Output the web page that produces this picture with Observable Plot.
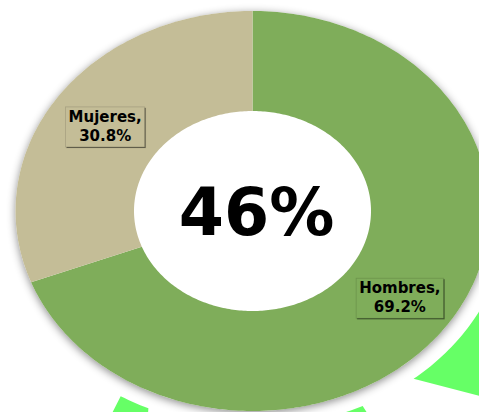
<!DOCTYPE html>
<html>
<head>
<meta charset="utf-8">
<script src="https://cdn.jsdelivr.net/npm/d3@7"></script>
<script src="https://cdn.jsdelivr.net/npm/@observablehq/plot@0.6"></script>
<style>
html, body { margin: 0; padding: 0; background: #fff; overflow: hidden; }
#chart svg { display: block; overflow: hidden; }
</style>
</head>
<body>
<div id="chart"></div>
<script>
// ---- data ----
const categories = ["Mujeres", "Hombres"];
const values = [30.8, 69.2];
const valueLabels = ["30.8%", "69.2%"];
const colors = ["#C4BD97", "#7FAD5A"];
const centerLabel = "46%";
// decorative bright-green band behind the donut (degrees clockwise from top)
const decorOuterStart = [100, 154, 200];
const decorOuterEnd = [134, 175, 209.5];
const decorInnerStart = [100, 154.5, 204];
const decorInnerEnd = [141, 175, 211];

// ---- geometry helpers (unit space, y up) ----
const R_IN = 0.5, R_OUT = 1;
const DECOR_IN = 1.08, DECOR_OUT = 1.33;
function arc(a0, a1, r, key) {
  const n = Math.max(2, Math.ceil(Math.abs(a1 - a0)));
  return d3.range(n + 1).map(k => {
    const a = (a0 + (a1 - a0) * k / n) * Math.PI / 180;
    return {key, x: r * Math.sin(a), y: r * Math.cos(a)};
  });
}
function band(a0o, a1o, a0i, a1i, r0, r1, key) {
  return [...arc(a0o, a1o, r1, key), ...arc(a0i, a1i, r0, key).reverse()];
}

// Hombres first, clockwise from 12 o'clock; Mujeres closes the circle
const order = [1, 0];
const total = d3.sum(values);
let acc = 0;
const slices = order.map(i => {
  const a0 = acc / total * 360; acc += values[i];
  const a1 = acc / total * 360;
  return {cat: categories[i], label: categories[i] + ",\n" + valueLabels[i], color: colors[i], a0, a1};
});
const slicePts = slices.flatMap(s => band(s.a0, s.a1, s.a0, s.a1, R_IN, R_OUT, s.cat).map(p => ({...p, cat: s.cat})));
const discPts = arc(0, 360, R_OUT, "disc");
const decorPts = decorOuterStart.flatMap((a, i) =>
  band(a, decorOuterEnd[i], decorInnerStart[i], decorInnerEnd[i], DECOR_IN, DECOR_OUT, "d" + i));
const labelData = slices.map(s => {
  const m = (s.a0 + s.a1) / 2 * Math.PI / 180, r = 0.755;
  return {cat: s.cat, label: s.label, x: r * Math.sin(m), y: r * Math.cos(m)};
});

const plot = Plot.plot({
  width: 479,
  height: 412,
  margin: 0,
  x: {domain: [-1, 1], range: [15, 489], axis: null},
  y: {domain: [-1, 1], range: [410.5, 10.5], axis: null},
  color: {domain: categories, range: colors},
  style: {background: "white"},
  marks: [
    Plot.line(decorPts, {x: "x", y: "y", z: "key", fill: "#66FF66", stroke: "none"}),
    Plot.line(discPts, {x: "x", y: "y", fill: "white", stroke: "none"}),
    Plot.line(slicePts, {x: "x", y: "y", z: "cat", fill: "cat", stroke: "none"}),
    Plot.text(labelData, {x: "x", y: "y", text: "label", fontFamily: "DejaVu Sans", fontWeight: "bold", fontSize: 15, lineHeight: 1.27, fill: "#000", textAnchor: "middle"}),
    Plot.text([centerLabel], {x: () => 0, y: () => 0, text: d => d, fontFamily: "DejaVu Sans", fontWeight: "bold", fontSize: 65, fill: "#000", textAnchor: "middle", dx: 4, dy: 3.5})
  ]
});
document.getElementById("chart").append(plot);

// post-styling: shadow under the donut, label boxes
const groups = plot.querySelectorAll(":scope > g");
if (groups[1]) groups[1].style.filter = "drop-shadow(0px 2px 4px rgba(0,0,0,0.45))";
if (groups[3]) {
  const texts = groups[3].querySelectorAll("text");
  texts.forEach((t, i) => {
    const b = t.getBBox();
    const r = document.createElementNS("http://www.w3.org/2000/svg", "rect");
    r.setAttribute("x", b.x - 3);
    r.setAttribute("y", b.y - 1);
    r.setAttribute("width", b.width + 6);
    r.setAttribute("height", b.height + 3);
    const tr = t.getAttribute("transform");
    if (tr) r.setAttribute("transform", tr);
    r.setAttribute("fill", slices[i].color);
    r.setAttribute("stroke", "rgba(0,0,0,0.15)");
    r.setAttribute("stroke-width", "0.8");
    r.style.filter = "drop-shadow(1.2px 1.2px 0.6px rgba(0,0,0,0.5))";
    t.parentNode.insertBefore(r, t);
  });
}
</script>
</body>
</html>
